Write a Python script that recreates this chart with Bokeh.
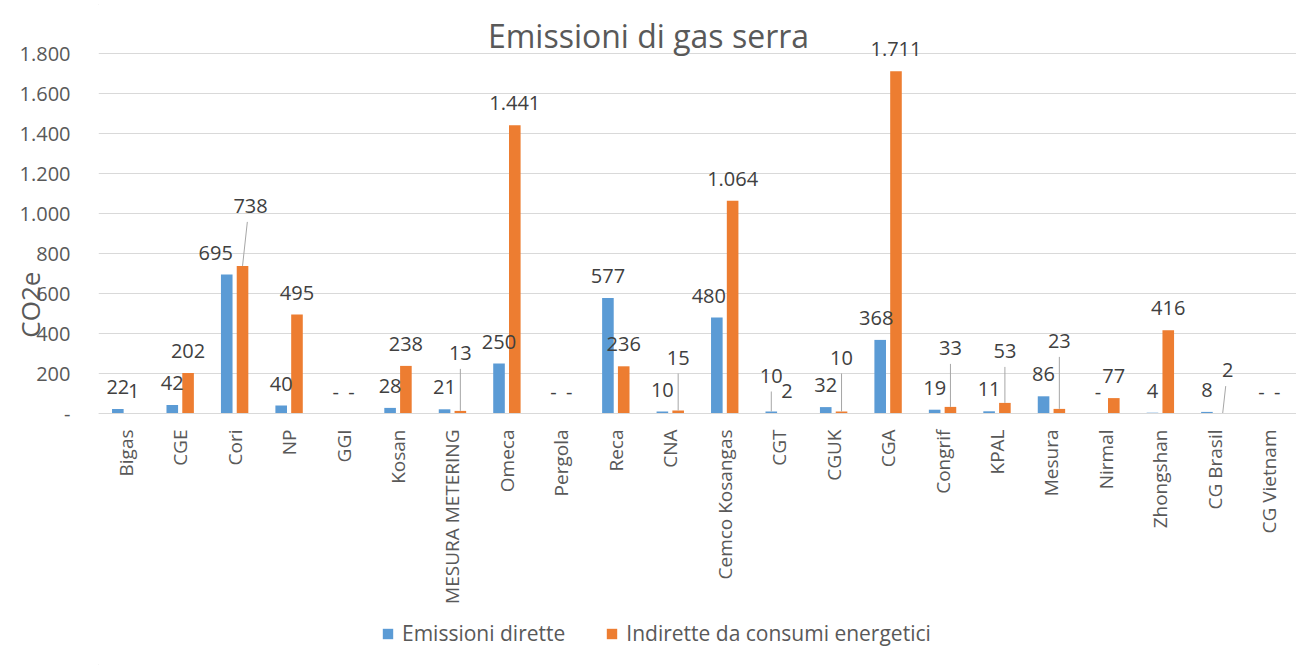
import math
from bokeh.plotting import figure
from bokeh.models import (ColumnDataSource, FactorRange, Range1d, FixedTicker,
                          LabelSet, Label, Legend, LegendItem)
from bokeh.core.properties import value
from bokeh.embed import file_html
from bokeh.resources import INLINE

# ---------------- data ----------------
categories = ["Bigas", "CGE", "Cori", "NP", "GGI", "Kosan", "MESURA METERING", "Omeca",
              "Pergola", "Reca", "CNA", "Cemco Kosangas", "CGT", "CGUK", "CGA", "Congrif",
              "KPAL", "Mesura", "Nirmal", "Zhongshan", "CG Brasil", "CG Vietnam"]
emissioni_dirette = [22, 42, 695, 40, 0, 28, 21, 250, 0, 577, 10, 480, 10, 32, 368, 19,
                     11, 86, 0, 4, 8, 0]
indirette_energetici = [1, 202, 738, 495, 0, 238, 13, 1441, 0, 236, 15, 1064, 2, 10, 1711,
                        33, 53, 23, 77, 416, 2, 0]
series_names = ["Emissioni dirette", "Indirette da consumi energetici"]
y_ticks = [0, 200, 400, 600, 800, 1000, 1200, 1400, 1600, 1800]
title_text = "Emissioni di gas serra"
y_label_text = "CO2e"

# label placement tweaks (pixels): horizontal shift, extra lift above default
dir_label_dx = [0, 0, -11, 0, 0, 0, 0, 0, 0, 0, 0, -8, 0, 0, -4, 0, 0, 0, 0, 0, 0, 0]
dir_label_up = [0, 0, 0, 0, 0, 0, 0, 0, 0, 0, 0, 0, 14, 0, 0, 0, 0, 0, 0, 0, 0, 0]
ind_label_dx = [0, 0, 8, 0, 0, 0, 0, 0, 0, 0, 0, 0, 0, 0, 0, 0, 0, 0, 0, 0, 5, 0]
ind_label_up = [0, 0, 38, 0, 0, 0, 36, 0, 0, 0, 31, 0, 0, 32, 0, 37, 30, 46, 0, 0, 21, 0]

# ---------------- styling / layout ----------------
BLUE = "#5B9BD5"
ORANGE = "#ED7D31"
GRID = "#D9D9D9"
TXT = "#595959"
LBL = "#404040"
FONT = "Open Sans"

FIG_W, FIG_H = 1296, 669
FRAME_L = 98
FRAME_W = FIG_W - FRAME_L
FRAME_H = FIG_H
ZERO_PX = 413                           # pixel row of the value axis' zero line
UPP = 5.0                               # data units per pixel (200 per 40 px)
Y_MAX = ZERO_PX * UPP
Y_MIN = -(FRAME_H - ZERO_PX) * UPP
PX_PER_CAT = FRAME_W / len(categories)
BAR_W = 0.213
BAR_OFF = 0.145
LABEL_GAP = 22                          # px from bar top to label centre


def fmt(v):
    if v == 0:
        return "-"
    return f"{v:,}".replace(",", ".")


n = len(categories)
xc = [i + 0.5 for i in range(n)]
xd = [x - BAR_OFF for x in xc]
xi = [x + BAR_OFF for x in xc]

src = ColumnDataSource(dict(
    xd=xd, xi=xi, dir=emissioni_dirette, ind=indirette_energetici,
    dir_txt=[fmt(v) for v in emissioni_dirette],
    ind_txt=[fmt(v) for v in indirette_energetici],
    dir_dx=dir_label_dx, ind_dx=ind_label_dx,
    dir_yo=[LABEL_GAP + u for u in dir_label_up],
    ind_yo=[LABEL_GAP + u for u in ind_label_up],
))

p = figure(x_range=FactorRange(*categories), y_range=Range1d(Y_MIN, Y_MAX),
           frame_width=FRAME_W, frame_height=FRAME_H,
           min_border_left=FRAME_L, min_border_right=0, min_border_top=0,
           min_border_bottom=0,
           title=None, output_backend="svg", toolbar_location=None,
           background_fill_color="white", border_fill_color="white")
p.outline_line_color = None
p.styles = {"outline": "1px solid #D9D9D9", "outline-offset": "-5px"}

r1 = p.vbar(x="xd", top="dir", width=BAR_W, source=src, fill_color=BLUE, line_color=None)
r2 = p.vbar(x="xi", top="ind", width=BAR_W, source=src, fill_color=ORANGE, line_color=None)

# leader lines for displaced labels
lx0, ly0, lx1, ly1 = [], [], [], []
for xs, vals, dxs, ups in ((xd, emissioni_dirette, dir_label_dx, dir_label_up),
                           (xi, indirette_energetici, ind_label_dx, ind_label_up)):
    for x, v, dx, up in zip(xs, vals, dxs, ups):
        if up >= 14:
            lx0.append(x)
            ly0.append(v)
            lx1.append(x + dx * 0.6 / PX_PER_CAT)
            ly1.append(v + (LABEL_GAP + up - 16) * UPP)
p.segment(x0=lx0, y0=ly0, x1=lx1, y1=ly1, line_color="#A6A6A6", line_width=1)

for xcol, ycol, tcol, dxcol, yocol in (("xd", "dir", "dir_txt", "dir_dx", "dir_yo"),
                                       ("xi", "ind", "ind_txt", "ind_dx", "ind_yo")):
    ls = LabelSet(x=xcol, y=ycol, text=tcol, x_offset=dxcol, y_offset=yocol, source=src,
                  text_align="center", text_baseline="middle",
                  text_font=value(FONT), text_font_size="20px", text_color=LBL)
    p.add_layout(ls)

# axes
ticker = FixedTicker(ticks=y_ticks)
p.yaxis.ticker = ticker
p.ygrid.ticker = ticker
p.yaxis.major_label_overrides = {t: fmt(t) for t in y_ticks}
p.yaxis.major_label_text_font = FONT
p.yaxis.major_label_text_font_size = "20px"
p.yaxis.major_label_text_color = TXT
p.yaxis.major_label_standoff = 28
p.yaxis.axis_line_color = None
p.yaxis.major_tick_line_color = None
p.yaxis.minor_tick_line_color = None
p.yaxis.major_tick_out = 0
p.yaxis.major_tick_in = 0
p.yaxis.minor_tick_out = 0
p.yaxis.minor_tick_in = 0
# y-axis title: pushed into the tick-label column, nudged up with leading nbsp
p.yaxis.axis_label = "\u00a0" * 9 + y_label_text
p.yaxis.axis_label_standoff = -31
p.yaxis.axis_label_text_font = FONT
p.yaxis.axis_label_text_font_size = "26px"
p.yaxis.axis_label_text_font_style = "normal"
p.yaxis.axis_label_text_color = TXT

# category axis drawn on the zero line
p.xaxis.fixed_location = 0
p.xaxis.major_label_orientation = math.pi / 2
p.xaxis.major_label_text_font = FONT
p.xaxis.major_label_text_font_size = "19px"
p.xaxis.major_label_text_color = TXT
p.xaxis.major_label_standoff = 16
p.xaxis.axis_line_color = GRID
p.xaxis.major_tick_line_color = None
p.xaxis.minor_tick_line_color = None
p.xaxis.major_tick_out = 0
p.xaxis.major_tick_in = 0
p.xaxis.minor_tick_out = 0
p.xaxis.minor_tick_in = 0

p.xgrid.grid_line_color = None
p.ygrid.grid_line_color = GRID
p.ygrid.grid_line_width = 1

# title (centred on the whole chart)
p.add_layout(Label(x=(648 - FRAME_L) / PX_PER_CAT, y=Y_MAX - 35 * UPP, text=title_text,
                   text_align="center", text_baseline="middle", text_font=FONT,
                   text_font_size="32px", text_color=TXT))

legend = Legend(items=[LegendItem(label=series_names[0], renderers=[r1]),
                       LegendItem(label=series_names[1], renderers=[r2])],
                orientation="horizontal", location=(283, 22))
legend.label_text_font = FONT
legend.label_text_font_size = "21px"
legend.label_text_color = TXT
legend.glyph_width = 13
legend.glyph_height = 13
legend.label_standoff = 8
legend.spacing = 40
legend.border_line_color = None
legend.background_fill_alpha = 0
legend.padding = 0
legend.margin = 0
p.add_layout(legend)

open("out.html", "w").write(file_html(p, INLINE))
